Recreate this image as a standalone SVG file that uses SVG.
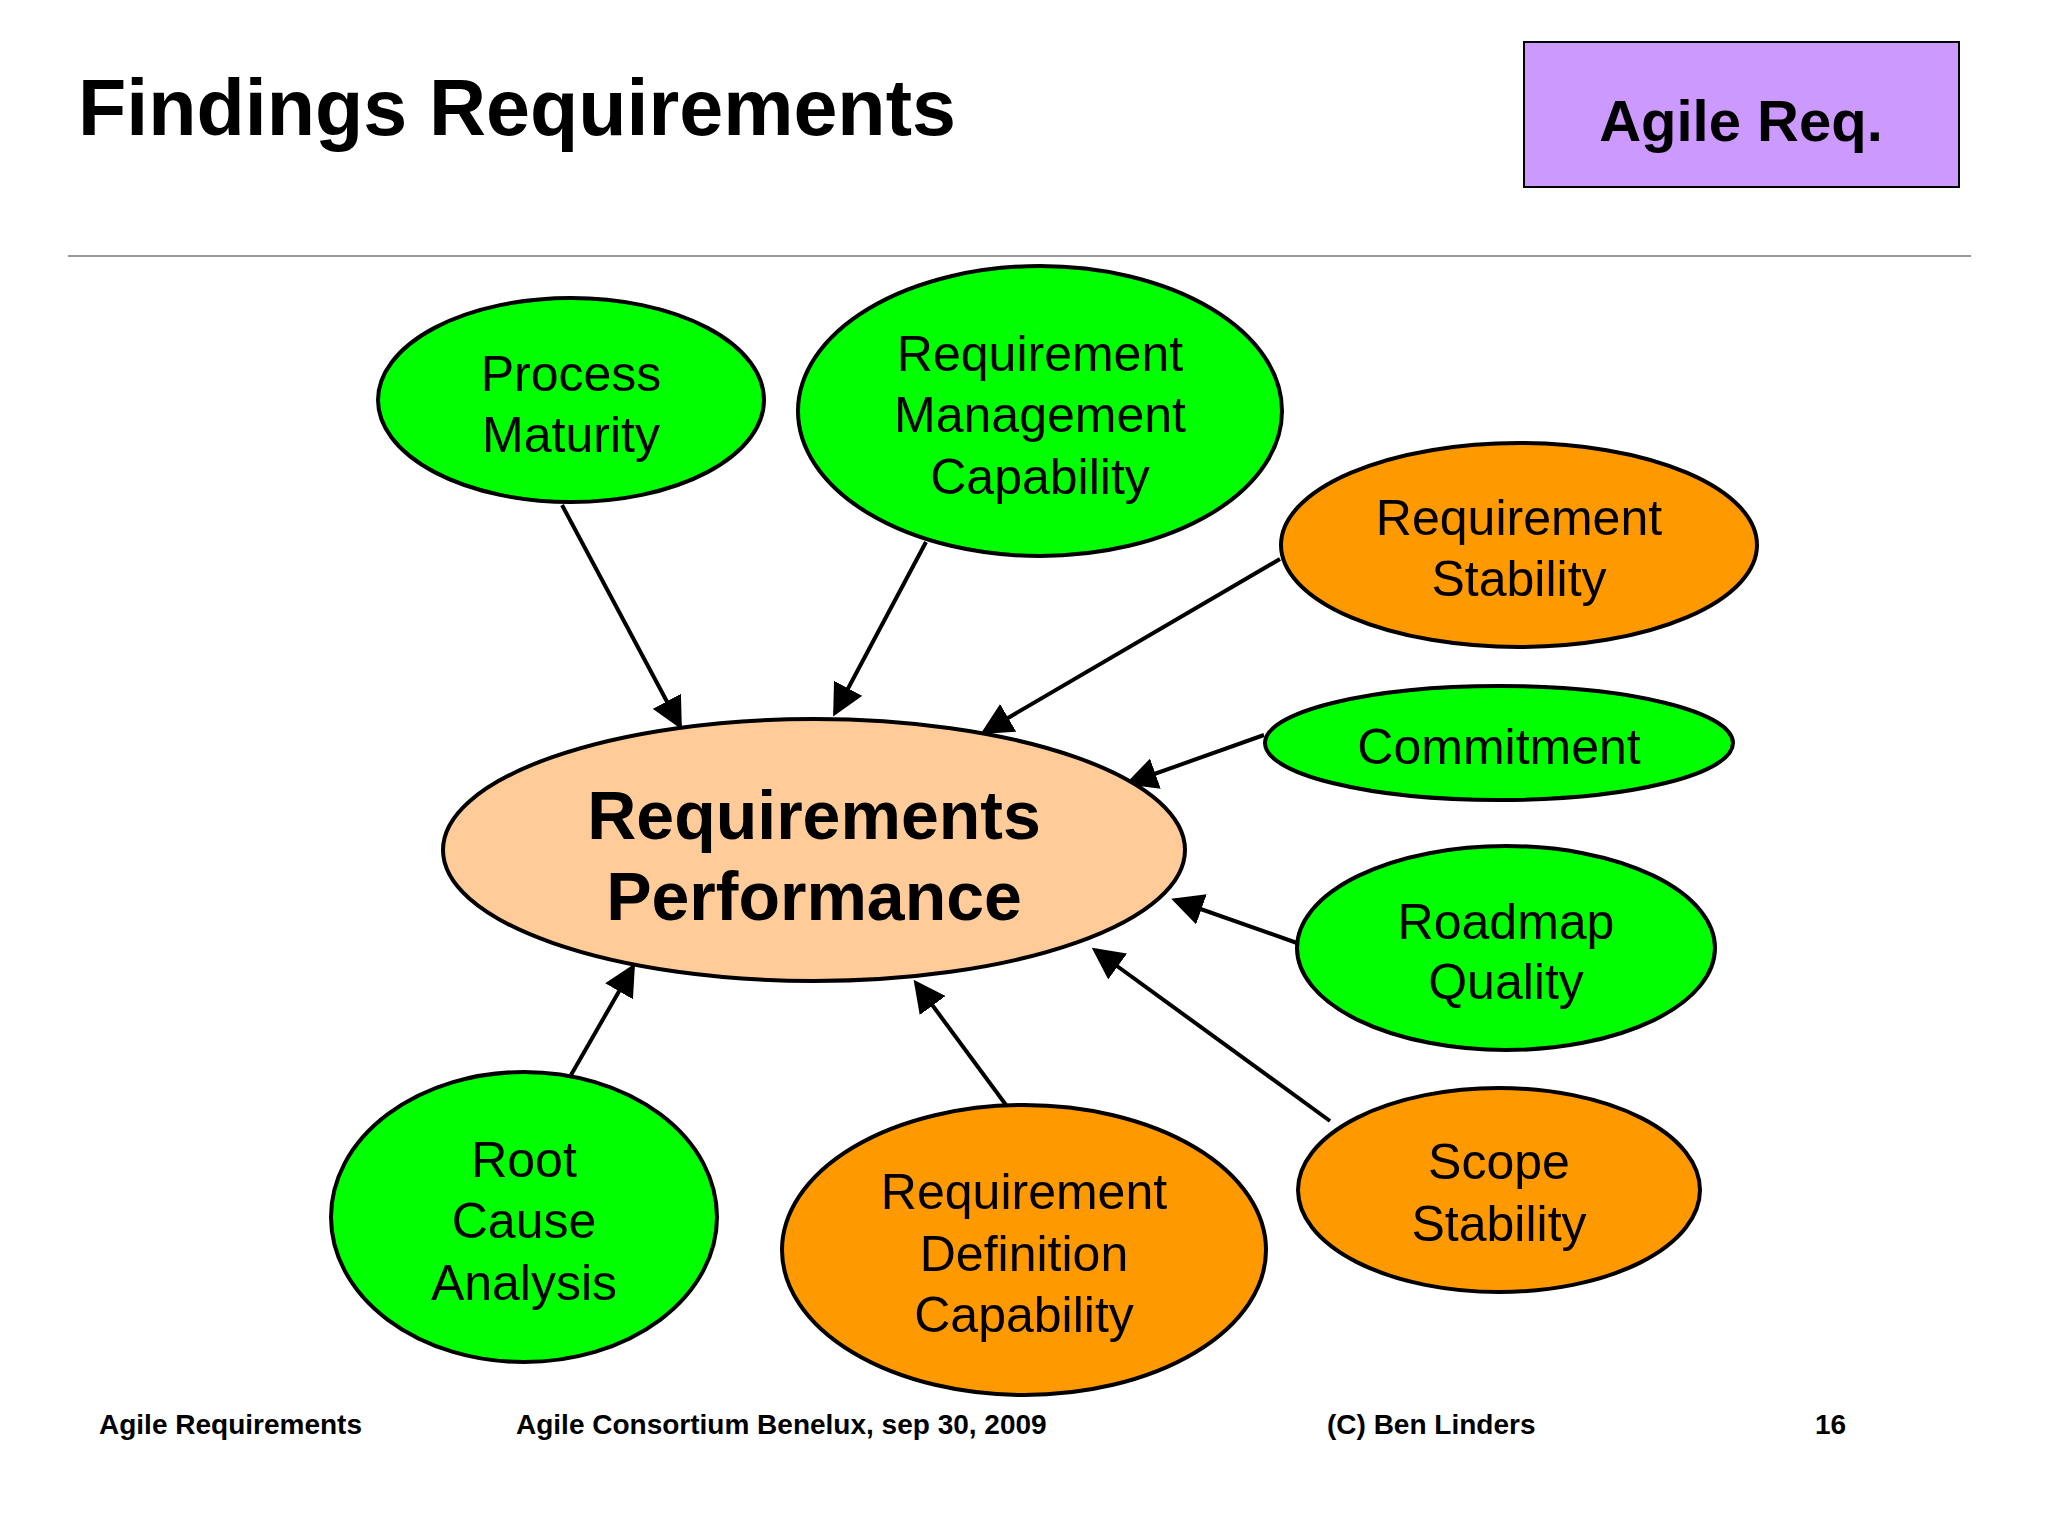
<svg xmlns="http://www.w3.org/2000/svg" width="2048" height="1536" viewBox="0 0 2048 1536">
<style>
text{font-family:"Liberation Sans",Arial,sans-serif;fill:#000}
.n{font-size:50px;text-anchor:middle;dominant-baseline:central}
.big{font-size:68px;font-weight:bold}
.e{stroke:#000;stroke-width:4}
.g{fill:#00FF00}.o{fill:#FF9900}
.f{font-size:28px;font-weight:bold}
.c line{stroke:#000;stroke-width:4;marker-end:url(#a)}
</style>
<defs><marker id="a" markerWidth="8" markerHeight="8" refX="7" refY="4" orient="auto" markerUnits="strokeWidth"><path d="M0,0 L8,4 L0,8 z" fill="#000"/></marker></defs>
<rect width="2048" height="1536" fill="#fff"/>
<text x="78" y="135" font-size="79" font-weight="bold">Findings Requirements</text>
<g id="tag"><rect x="1524" y="42" width="435" height="145" fill="#CC99FF" stroke="#000" stroke-width="2"/><text x="1741" y="120" font-size="58" font-weight="bold" text-anchor="middle" dominant-baseline="central">Agile Req.</text></g>
<line x1="68" y1="256" x2="1971" y2="256" stroke="#999" stroke-width="2"/>
<g class="c">
<line x1="562" y1="505" x2="680" y2="726"/>
<line x1="926" y1="542" x2="835" y2="713"/>
<line x1="1280" y1="559" x2="984" y2="732"/>
<line x1="1264" y1="735" x2="1129" y2="783"/>
<line x1="1297" y1="943" x2="1175" y2="900"/>
<line x1="1330" y1="1121" x2="1095" y2="950"/>
<line x1="1006" y1="1105" x2="916" y2="983"/>
<line x1="571" y1="1075" x2="633" y2="967"/>
</g>
<g id="center"><ellipse class="e" cx="814" cy="850" rx="371" ry="131" fill="#FFCC99"/><text class="n big" x="814" y="815" style="font-size:68px">Requirements</text><text class="n big" x="814" y="896" style="font-size:68px">Performance</text></g>
<g id="pm"><ellipse class="e g" cx="571" cy="400" rx="193" ry="102"/><text class="n" x="571" y="374">Process</text><text class="n" x="571" y="435">Maturity</text></g>
<g id="rmc"><ellipse class="e g" cx="1040" cy="411" rx="242" ry="145"/><text class="n" x="1040" y="354">Requirement</text><text class="n" x="1040" y="415">Management</text><text class="n" x="1040" y="477">Capability</text></g>
<g id="rs"><ellipse class="e o" cx="1519" cy="545" rx="238" ry="102"/><text class="n" x="1519" y="518">Requirement</text><text class="n" x="1519" y="579">Stability</text></g>
<g id="commit"><ellipse class="e g" cx="1499" cy="743" rx="234" ry="57"/><text class="n" x="1499" y="747">Commitment</text></g>
<g id="rq"><ellipse class="e g" cx="1506" cy="948" rx="209" ry="102"/><text class="n" x="1506" y="922">Roadmap</text><text class="n" x="1506" y="982">Quality</text></g>
<g id="ss"><ellipse class="e o" cx="1499" cy="1190" rx="201" ry="102"/><text class="n" x="1499" y="1162">Scope</text><text class="n" x="1499" y="1224">Stability</text></g>
<g id="rdc"><ellipse class="e o" cx="1024" cy="1250" rx="242" ry="145"/><text class="n" x="1024" y="1192">Requirement</text><text class="n" x="1024" y="1254">Definition</text><text class="n" x="1024" y="1315">Capability</text></g>
<g id="rca"><ellipse class="e g" cx="524" cy="1217" rx="193" ry="145"/><text class="n" x="524" y="1160">Root</text><text class="n" x="524" y="1221">Cause</text><text class="n" x="524" y="1283">Analysis</text></g>
<text class="f" x="99" y="1434">Agile Requirements</text>
<text class="f" x="516" y="1434">Agile Consortium Benelux, sep 30, 2009</text>
<text class="f" x="1327" y="1434">(C) Ben Linders</text>
<text class="f" x="1815" y="1434">16</text>
</svg>
